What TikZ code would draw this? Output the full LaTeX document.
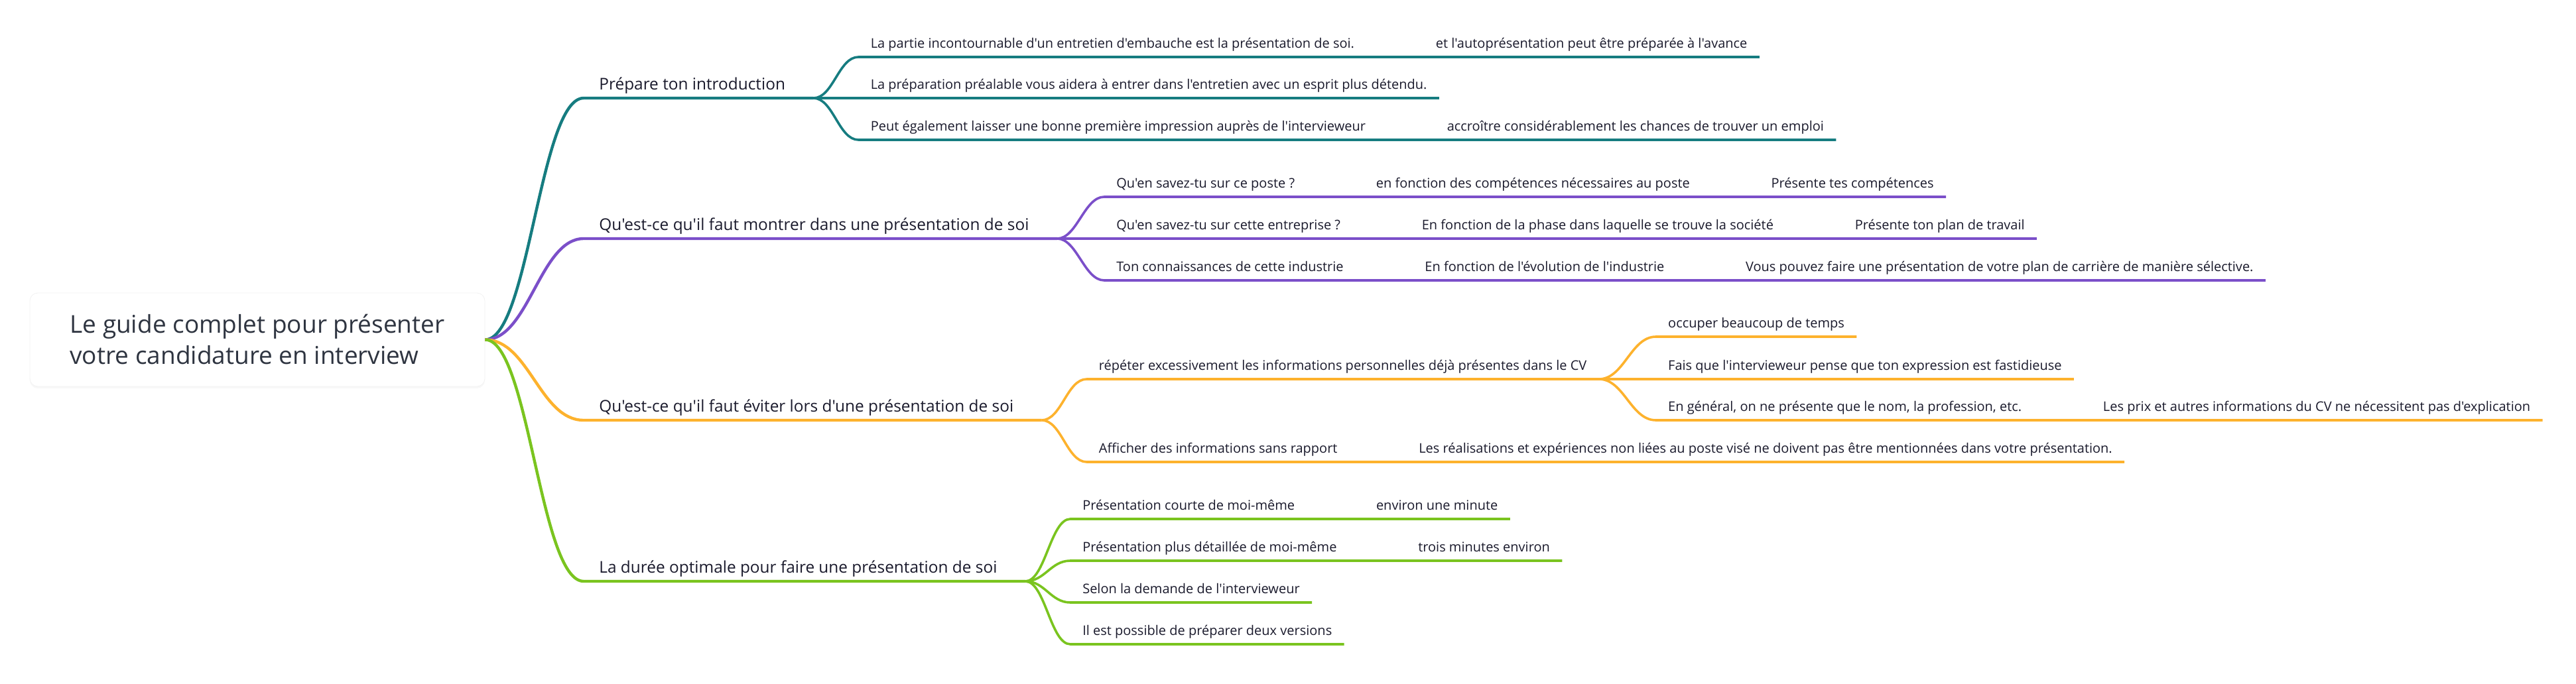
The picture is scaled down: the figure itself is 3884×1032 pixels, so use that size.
\documentclass[tikz,border=0pt]{standalone}
\usepackage{fontspec}
\newfontfamily\mindfont{Open Sans}
\usetikzlibrary{positioning, shadows}
\definecolor{tealb}{HTML}{167C80}
\definecolor{purpleb}{HTML}{7B4FC9}
\definecolor{orangeb}{HTML}{FDB22D}
\definecolor{greenb}{HTML}{7AC41F}
\definecolor{inkb}{HTML}{1A1A2C}
\definecolor{rootink}{HTML}{2E3440}

\begin{document}
\begin{tikzpicture}[x=0.5pt, y=-0.5pt,
  root/.style={rectangle, rounded corners=6pt, fill=white, draw=black!5,
               drop shadow={opacity=0.06, shadow xshift=0pt, shadow yshift=-1.5pt},
               minimum width=343pt, minimum height=70.5pt, align=left,
               text=rootink, font=\mindfont\fontsize{18.5}{23.5}\selectfont},
  topic/.style={anchor=south west, inner xsep=11.5pt, inner ysep=6pt, text depth=0pt,
                text=inkb, font=\mindfont\fontsize{12.2}{14}\selectfont},
  leaf/.style={anchor=south west, inner xsep=9pt, inner ysep=6.5pt, text depth=0pt,
               text=inkb, font=\mindfont\fontsize{10}{12}\selectfont},
  link/.style={to path={.. controls +(#1,0) and +(-#1,0) .. (\tikztotarget) \tikztonodes}},
  main/.style={line width=2.2pt},
  twig/.style={line width=1.8pt}
]
  \useasboundingbox (0,0) rectangle (3884,1032);

  \node[root] (root) at (388,512.5) {Le guide complet pour présenter\\votre candidature en interview};

  \node[topic] (t1) at (880,148) {Prépare ton introduction};
  \node[topic] (t2) at (880,360) {Qu'est-ce qu'il faut montrer dans une présentation de soi};
  \node[topic] (t3) at (880,634) {Qu'est-ce qu'il faut éviter lors d'une présentation de soi};
  \node[topic] (t4) at (880,877) {La durée optimale pour faire une présentation de soi};

  % Prépare ton introduction
  \node[above right=31pt and 43.5pt of t1.south east, leaf] (a1) {La partie incontournable d'un entretien d'embauche est la présentation de soi.};
  \node[right=43.5pt of t1.south east, leaf] (a2) {La préparation préalable vous aidera à entrer dans l'entretien avec un esprit plus détendu.};
  \node[below right=31.5pt and 43.5pt of t1.south east, leaf] (a3) {Peut également laisser une bonne première impression auprès de l'intervieweur};
  \node[right=43pt of a1.south east, leaf] (a1x) {et l'autoprésentation peut être préparée à l'avance};
  \node[right=43pt of a3.south east, leaf] (a3x) {accroître considérablement les chances de trouver un emploi};

  % montrer
  \node[above right=31.5pt and 45pt of t2.south east, leaf] (b1) {Qu'en savez-tu sur ce poste ?};
  \node[right=45pt of t2.south east, leaf] (b2) {Qu'en savez-tu sur cette entreprise ?};
  \node[below right=31.5pt and 45pt of t2.south east, leaf] (b3) {Ton connaissances de cette industrie};
  \node[right=43pt of b1.south east, leaf] (b1x) {en fonction des compétences nécessaires au poste};
  \node[right=43pt of b1x.south east, leaf] (b1y) {Présente tes compétences};
  \node[right=43pt of b2.south east, leaf] (b2x) {En fonction de la phase dans laquelle se trouve la société};
  \node[right=43pt of b2x.south east, leaf] (b2y) {Présente ton plan de travail};
  \node[right=43pt of b3.south east, leaf] (b3x) {En fonction de l'évolution de l'industrie};
  \node[right=43pt of b3x.south east, leaf] (b3y) {Vous pouvez faire une présentation de votre plan de carrière de manière sélective.};

  % éviter
  \node[above right=31pt and 43.5pt of t3.south east, leaf] (c1) {répéter excessivement les informations personnelles déjà présentes dans le CV};
  \node[below right=31.5pt and 43.5pt of t3.south east, leaf] (c2) {Afficher des informations sans rapport};
  \node[right=43pt of c2.south east, leaf] (c2x) {Les réalisations et expériences non liées au poste visé ne doivent pas être mentionnées dans votre présentation.};
  \node[above right=32pt and 43pt of c1.south east, leaf] (c1a) {occuper beaucoup de temps};
  \node[right=43pt of c1.south east, leaf] (c1b) {Fais que l'intervieweur pense que ton expression est fastidieuse};
  \node[below right=31pt and 43pt of c1.south east, leaf] (c1c) {En général, on ne présente que le nom, la profession, etc.};
  \node[right=43pt of c1c.south east, leaf] (c1d) {Les prix et autres informations du CV ne nécessitent pas d'explication};

  % durée
  \node[above right=47pt and 43.5pt of t4.south east, leaf] (d1) {Présentation courte de moi-même};
  \node[above right=15.5pt and 43.5pt of t4.south east, leaf] (d2) {Présentation plus détaillée de moi-même};
  \node[below right=16pt and 43.5pt of t4.south east, leaf] (d3) {Selon la demande de l'intervieweur};
  \node[below right=47.5pt and 43.5pt of t4.south east, leaf] (d4) {Il est possible de préparer deux versions};
  \node[right=43pt of d1.south east, leaf] (d1x) {environ une minute};
  \node[right=43pt of d2.south east, leaf] (d2x) {trois minutes environ};

  % branches from the root
  \draw[main, tealb] (root.east) to[link=66] (t1.south west) -- (t1.south east) -- ++(19,0) coordinate (j1);
  \draw[main, purpleb] (root.east) to[link=66] (t2.south west) -- (t2.south east) -- ++(19,0) coordinate (j2);
  \draw[main, orangeb] (root.east) to[link=66] (t3.south west) -- (t3.south east) -- ++(19,0) coordinate (j3);
  \draw[main, greenb] (root.east) to[link=66] (t4.south west) -- (t4.south east) -- ++(19,0) coordinate (j4);

  \draw[twig, tealb] (j1) to[link=30] (a1.south west) -- (a1.south east) -- (a1x.south west) -- (a1x.south east);
  \draw[twig, tealb] (j1) -- (a2.south west) -- (a2.south east);
  \draw[twig, tealb] (j1) to[link=30] (a3.south west) -- (a3.south east) -- (a3x.south west) -- (a3x.south east);

  \draw[twig, purpleb] (j2) to[link=30] (b1.south west) -- (b1.south east) -- (b1x.south west) -- (b1x.south east) -- (b1y.south west) -- (b1y.south east);
  \draw[twig, purpleb] (j2) -- (b2.south west) -- (b2.south east) -- (b2x.south west) -- (b2x.south east) -- (b2y.south west) -- (b2y.south east);
  \draw[twig, purpleb] (j2) to[link=30] (b3.south west) -- (b3.south east) -- (b3x.south west) -- (b3x.south east) -- (b3y.south west) -- (b3y.south east);

  \draw[twig, orangeb] (j3) to[link=30] (c1.south west) -- (c1.south east);
  \draw[twig, orangeb] (j3) to[link=30] (c2.south west) -- (c2.south east) -- (c2x.south west) -- (c2x.south east);
  \draw[twig, orangeb] (c1.south east) to[link=38] (c1a.south west) -- (c1a.south east);
  \draw[twig, orangeb] (c1.south east) -- (c1b.south west) -- (c1b.south east);
  \draw[twig, orangeb] (c1.south east) to[link=38] (c1c.south west) -- (c1c.south east) -- (c1d.south west) -- (c1d.south east);

  \draw[twig, greenb] (j4) to[link=30] (d1.south west) -- (d1.south east) -- (d1x.south west) -- (d1x.south east);
  \draw[twig, greenb] (j4) to[link=30] (d2.south west) -- (d2.south east) -- (d2x.south west) -- (d2x.south east);
  \draw[twig, greenb] (j4) to[link=30] (d3.south west) -- (d3.south east);
  \draw[twig, greenb] (j4) to[link=30] (d4.south west) -- (d4.south east);
\end{tikzpicture}
\end{document}
